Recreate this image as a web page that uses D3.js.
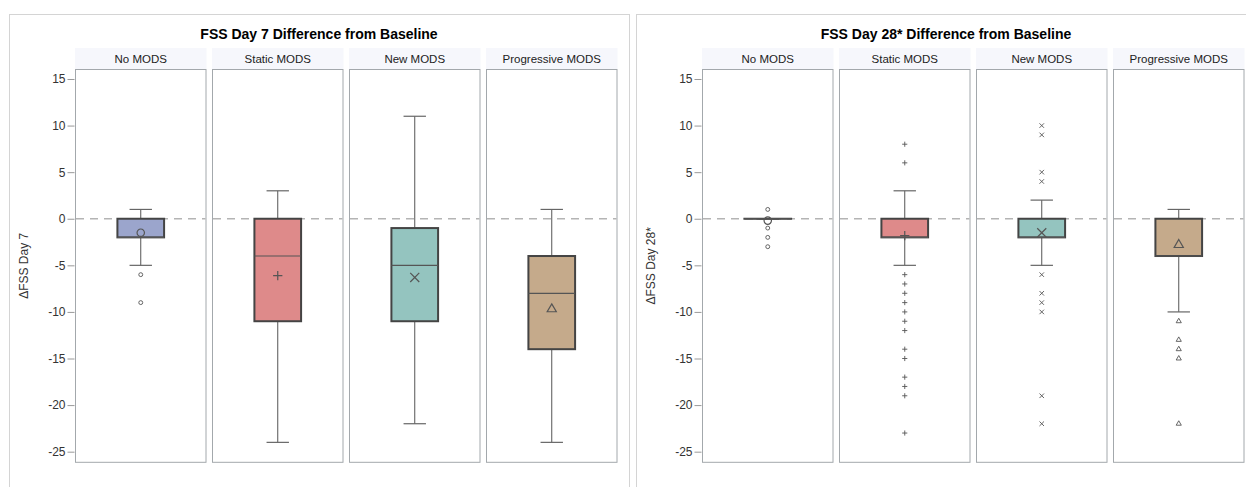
<!DOCTYPE html>
<html>
<head>
<meta charset="utf-8">
<script src="https://cdn.jsdelivr.net/npm/d3@7"></script>
<style>
  body { margin: 0; background: #fff; }
  text { font-family: "Liberation Sans", Arial, sans-serif; }
</style>
</head>
<body>
<div id="chart"></div>
<script>
// groups (one cell per group)
const categories = ["No MODS", "Static MODS", "New MODS", "Progressive MODS"];
const yTicks = [-25, -20, -15, -10, -5, 0, 5, 10, 15];

// day 7 box statistics
const day7Min = [-5, -24, -22, -24];
const day7Q1 = [-2, -11, -11, -14];
const day7Median = [-2, -4, -5, -8];
const day7Q3 = [0, 0, -1, -4];
const day7Max = [1, 3, 11, 1];
const day7Mean = [-1.5, -6.1, -6.3, -9.7];
const day7Outliers = [[-6, -9], [], [], []];

// day 28* box statistics
const day28Min = [0, -5, -5, -10];
const day28Q1 = [0, -2, -2, -4];
const day28Median = [0, -2, -2, -4];
const day28Q3 = [0, 0, 0, 0];
const day28Max = [0, 3, 2, 1];
const day28Mean = [-0.2, -1.8, -1.5, -2.8];
const day28Outliers = [
  [1, -1, -2, -3],
  [8, 6, -6, -7, -8, -9, -10, -11, -12, -14, -15, -17, -18, -19, -23],
  [10, 9, 5, 4, -6, -8, -9, -10, -19, -22],
  [-11, -13, -14, -15, -22]
];

// couleurs et symboles par groupe
const colors = ["#9ba5cc", "#de8a8a", "#94c4bf", "#c5aa8b"];
const symbols = [d3.symbolCircle, d3.symbolPlus, d3.symbolTimes, d3.symbolTriangle2];
const meanSizes = [43, 30, 55, 60];
const outSizes = [12, 10, 15, 19];

const width = 1246;
const height = 487;

const svg = d3.select("#chart").append("svg")
    .attr("width", width)
    .attr("height", height);

svg.append("rect").attr("width", width).attr("height", height).attr("fill", "#fff");

const y = d3.scaleLinear()
    .domain([-26.14, 16.04])
    .range([462.3, 69.3]);

function drawPanel(left, title, yLabel, s) {
  const g = svg.append("g");

  // cadre extérieur
  g.append("rect")
      .attr("x", left + 0.5).attr("y", 14.5)
      .attr("width", 620).attr("height", 490)
      .attr("fill", "none").attr("stroke", "#d4d4d4");

  g.append("text")
      .attr("x", left + 310).attr("y", 39)
      .attr("text-anchor", "middle")
      .attr("font-size", 14).attr("font-weight", "bold")
      .attr("fill", "#000")
      .text(title);

  const x = d3.scaleBand()
      .domain(categories)
      .range([left + 66, left + 608.5])
      .paddingInner(5.5 / 137);
  const bw = x.bandwidth();

  // axe y
  const axis = g.append("g")
      .attr("transform", `translate(${left + 65.5},0)`)
      .call(d3.axisLeft(y).tickValues(yTicks).tickSize(7).tickPadding(2)
        .tickFormat(d => String(d)));
  axis.select(".domain").remove();
  axis.selectAll("line").attr("stroke", "#999");
  axis.selectAll("text").attr("font-size", 12).attr("fill", "#333")
      .attr("font-family", "'Liberation Sans', Arial, sans-serif");

  g.append("text")
      .attr("transform", `translate(${left + 19},${(y.range()[0] + y.range()[1]) / 2}) rotate(-90)`)
      .attr("text-anchor", "middle")
      .attr("font-size", 12).attr("fill", "#333")
      .text(yLabel);

  categories.forEach((c, i) => {
    const x0 = x(c);
    const cx = x0 + bw / 2;
    const cell = g.append("g");

    // bandeau
    cell.append("rect")
        .attr("x", x0).attr("y", 48)
        .attr("width", bw).attr("height", 21)
        .attr("fill", "#f6f7fc");
    cell.append("text")
        .attr("x", cx).attr("y", 63)
        .attr("text-anchor", "middle")
        .attr("font-size", 11.5).attr("fill", "#222")
        .text(c);

    cell.append("rect")
        .attr("x", x0 + 0.5).attr("y", 69.5)
        .attr("width", bw - 1).attr("height", y.range()[0] - 69.5)
        .attr("fill", "#fff").attr("stroke", "#a3a8ac");

    // ligne de référence à 0
    cell.append("line")
        .attr("x1", x0 + 1).attr("x2", x0 + bw - 1)
        .attr("y1", y(0)).attr("y2", y(0))
        .attr("stroke", "#b4b4b4").attr("stroke-width", 1.3)
        .attr("stroke-dasharray", "8,6");

    const boxW = bw * 0.355;
    const capW = boxW * 0.48;

    // moustaches
    [[s.max[i], s.q3[i]], [s.q1[i], s.min[i]]].forEach(([a, b]) => {
      if (a === b) return;
      cell.append("line")
          .attr("x1", cx).attr("x2", cx)
          .attr("y1", y(a)).attr("y2", y(b))
          .attr("stroke", "#555");
    });
    [s.max[i], s.min[i]].forEach(v => {
      cell.append("line")
          .attr("x1", cx - capW / 2).attr("x2", cx + capW / 2)
          .attr("y1", y(v)).attr("y2", y(v))
          .attr("stroke", "#666").attr("stroke-width", 1.2);
    });

    // boîte
    cell.append("rect")
        .attr("x", cx - boxW / 2).attr("y", y(s.q3[i]))
        .attr("width", boxW).attr("height", Math.max(0.01, y(s.q1[i]) - y(s.q3[i])))
        .attr("fill", colors[i])
        .attr("stroke", "#444").attr("stroke-width", 2);
    cell.append("line")
        .attr("x1", cx - boxW / 2).attr("x2", cx + boxW / 2)
        .attr("y1", y(s.median[i])).attr("y2", y(s.median[i]))
        .attr("stroke", "#555").attr("stroke-width", 1.2);

    // valeurs extrêmes
    cell.selectAll("path.out")
        .data(s.out[i])
        .join("path")
        .attr("class", "out")
        .attr("transform", d => `translate(${cx},${y(d)})`)
        .attr("d", d3.symbol(symbols[i], outSizes[i]))
        .attr("fill", "none").attr("stroke", "#555").attr("stroke-width", 0.9);

    // moyenne
    cell.append("path")
        .attr("transform", `translate(${cx},${y(s.mean[i])})`)
        .attr("d", d3.symbol(symbols[i], meanSizes[i]))
        .attr("fill", "none").attr("stroke", "#555").attr("stroke-width", 1.2);
  });
}

drawPanel(9, "FSS Day 7 Difference from Baseline", "\u0394FSS Day 7", {
  min: day7Min, q1: day7Q1, median: day7Median, q3: day7Q3, max: day7Max,
  mean: day7Mean, out: day7Outliers
});

drawPanel(636, "FSS Day 28* Difference from Baseline", "\u0394FSS Day 28*", {
  min: day28Min, q1: day28Q1, median: day28Median, q3: day28Q3, max: day28Max,
  mean: day28Mean, out: day28Outliers
});
</script>
</body>
</html>
